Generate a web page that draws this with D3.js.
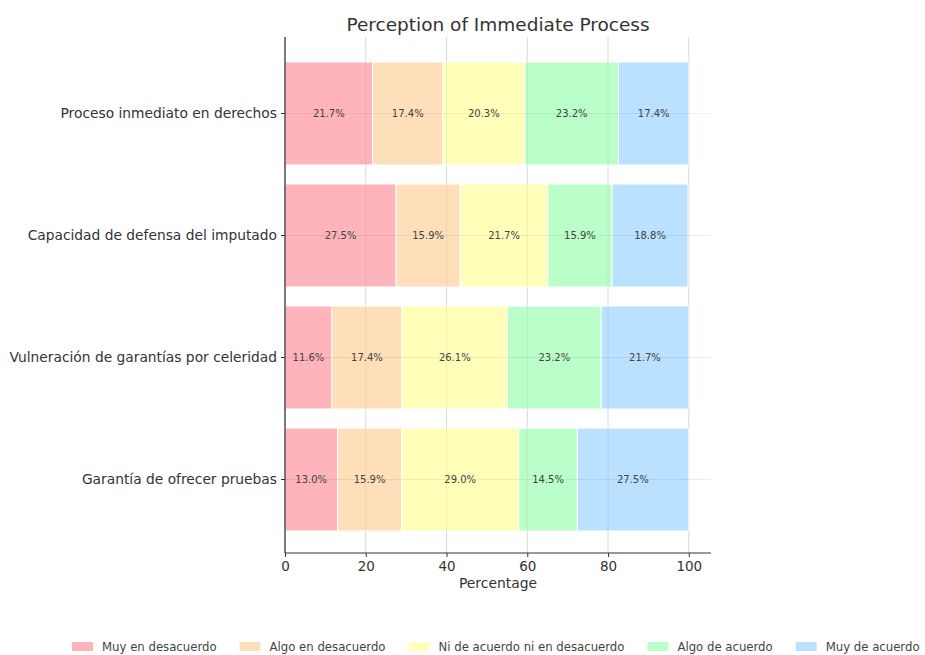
<!DOCTYPE html>
<html><head><meta charset="utf-8">
<script src="https://cdn.jsdelivr.net/npm/d3@7"></script>
<style>body{margin:0;background:#fff;} svg{display:block;font-family:"DejaVu Sans",sans-serif;}</style>
</head><body>
<svg id="c" width="925" height="655"></svg>
<script>
const categories = ["Proceso inmediato en derechos","Capacidad de defensa del imputado","Vulneración de garantías por celeridad","Garantía de ofrecer pruebas"];
const seriesNames = ["Muy en desacuerdo","Algo en desacuerdo","Ni de acuerdo ni en desacuerdo","Algo de acuerdo","Muy de acuerdo"];
const muyDesacuerdo = [21.7, 27.5, 11.6, 13.0];
const algoDesacuerdo = [17.4, 15.9, 17.4, 15.9];
const ni = [20.3, 21.7, 26.1, 29.0];
const algoAcuerdo = [23.2, 15.9, 23.2, 14.5];
const muyAcuerdo = [17.4, 18.8, 21.7, 27.5];
const xTicks = [0, 20, 40, 60, 80, 100];
const colors = ["#ffb3ba","#ffdfba","#ffffba","#baffc9","#bae1ff"];
const title = "Perception of Immediate Process";
const xLabel = "Percentage";

const seriesVals = [muyDesacuerdo, algoDesacuerdo, ni, algoAcuerdo, muyAcuerdo];
const rows = categories.map((c,i)=>{const o={cat:c}; seriesNames.forEach((s,j)=>o[s]=seriesVals[j][i]); return o;});
const stack = d3.stack().keys(seriesNames)(rows);

const svg = d3.select("#c");
const L=285, R=711, T=37, B=553;
const x = d3.scaleLinear().domain([0,105.5]).range([L,R]);
const y = d3.scaleBand().domain(categories).range([T+25, B-22]).paddingInner(0.156).paddingOuter(0);

// grid below
svg.append("g").selectAll("line").data(xTicks.slice(1)).join("line")
  .attr("x1",d=>x(d)).attr("x2",d=>x(d)).attr("y1",T).attr("y2",B)
  .attr("stroke","#e6e6e6").attr("stroke-width",1);

// bars
const bars = svg.append("g");
stack.forEach((layer,j)=>{
  bars.selectAll(null).data(layer).join("rect")
    .attr("x",d=>x(d[0])).attr("width",d=>x(d[1])-x(d[0]))
    .attr("y",d=>y(d.data.cat)).attr("height",y.bandwidth())
    .attr("fill",colors[j]).attr("stroke","#fff").attr("stroke-width",1);
});

// faint grid over bars
svg.append("g").selectAll("line").data(categories).join("line")
  .attr("x1",L).attr("x2",R).attr("y1",d=>y(d)+y.bandwidth()/2).attr("y2",d=>y(d)+y.bandwidth()/2)
  .attr("stroke","#000").attr("stroke-opacity",0.07);
svg.append("g").selectAll("line").data(xTicks.slice(1)).join("line")
  .attr("x1",d=>x(d)).attr("x2",d=>x(d)).attr("y1",T).attr("y2",B)
  .attr("stroke","#000").attr("stroke-opacity",0.06);

// value labels
stack.forEach((layer,j)=>{
  bars.selectAll(null).data(layer).join("text")
    .attr("x",d=>(x(d[0])+x(d[1]))/2).attr("y",d=>y(d.data.cat)+y.bandwidth()/2)
    .attr("dy","0.35em").attr("text-anchor","middle")
    .attr("font-size",10).attr("fill","#444")
    .text(d=>(d[1]-d[0]).toFixed(1)+"%");
});

// axes
const xa = svg.append("g").attr("transform",`translate(0,${B})`)
  .call(d3.axisBottom(x).tickValues(xTicks).tickSize(4).tickPadding(4));
xa.select(".domain").attr("d",`M${L},0H${R}`).attr("stroke","#333");
xa.selectAll("text").attr("font-size",13.5).attr("fill","#333").attr("font-family","DejaVu Sans");
xa.selectAll(".tick line").attr("stroke","#333");

const ya = svg.append("g").attr("transform",`translate(${L},0)`)
  .call(d3.axisLeft(y).tickSize(4).tickPadding(4));
ya.select(".domain").attr("d",`M0,${T}V${B}`).attr("stroke","#222").attr("stroke-width",1.2);
ya.selectAll("text").attr("font-size",13.8).attr("fill","#333").attr("font-family","DejaVu Sans");
ya.selectAll(".tick line").attr("stroke","#333");

svg.append("text").attr("x",(L+R)/2).attr("y",31).attr("text-anchor","middle")
  .attr("font-size",18.5).attr("fill","#333").text(title);
svg.append("text").attr("x",(L+R)/2).attr("y",588).attr("text-anchor","middle")
  .attr("font-size",13.9).attr("fill","#333").text(xLabel);

// legend
const lg = svg.append("g");
let cx = 72;
seriesNames.forEach((s,j)=>{
  lg.append("rect").attr("x",cx).attr("y",642).attr("width",21).attr("height",9).attr("fill",colors[j]);
  const t = lg.append("text").attr("x",cx+30).attr("y",651).attr("font-size",13)
    .attr("font-family","DejaVu Sans Condensed, DejaVu Sans").attr("fill","#444").text(s);
  const w = t.node().getComputedTextLength();
  cx = cx + 30 + w + 23;
});
</script>
</body></html>
